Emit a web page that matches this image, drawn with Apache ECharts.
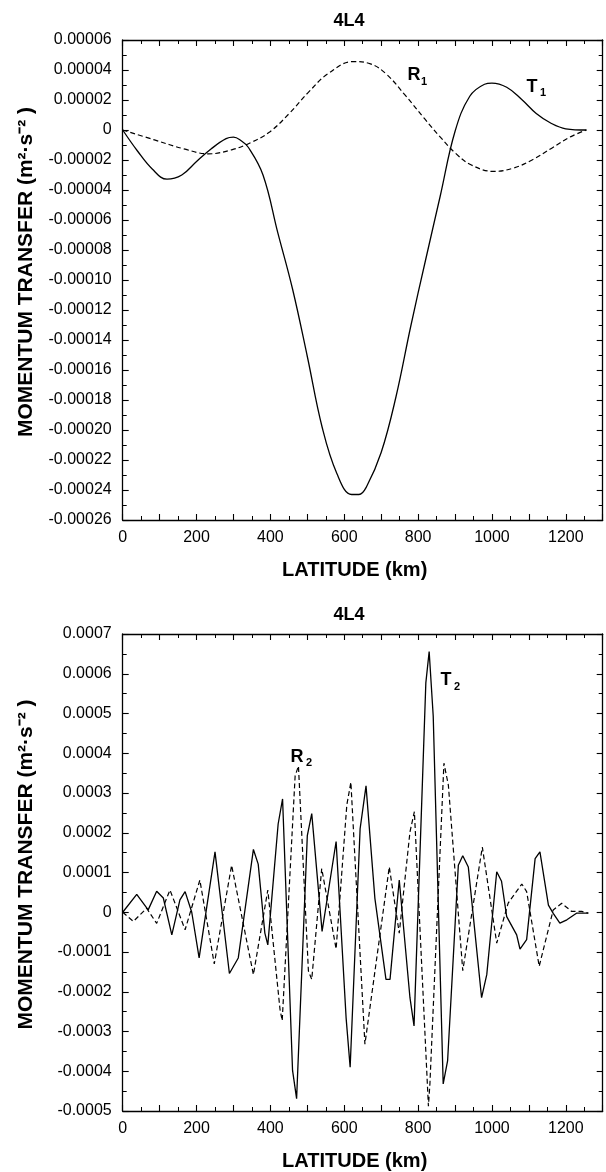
<!DOCTYPE html>
<html>
<head>
<meta charset="utf-8">
<script src="https://cdn.jsdelivr.net/npm/echarts@6/dist/echarts.min.js"></script>
<style>html,body{margin:0;padding:0;background:#fff}#c{width:606px;height:1172px}</style>
</head>
<body>
<div id="c"></div>
<script>
// ---- data (x = latitude km, y = momentum transfer) ----
const T1 = [[0,0],[40,-0.000014],[80,-0.000026],[120,-0.0000328],[160,-0.00003],[200,-0.000021],[240,-0.0000125],[280,-0.0000058],[300,-0.0000048],[320,-0.000007],[340,-0.0000115],[380,-0.00003],[420,-0.0000684],[460,-0.000106],[500,-0.000151],[540,-0.000198],[580,-0.000229],[620,-0.000243],[640,-0.000243],[660,-0.000238],[700,-0.000215],[740,-0.000178],[780,-0.000131],[820,-0.000087],[860,-0.000044],[900,-0.000001],[940,0.0000225],[980,0.0000305],[1000,0.0000313],[1040,0.0000285],[1080,0.0000205],[1120,0.000011],[1160,0.0000045],[1200,0.0000008],[1256,0]];
const R1 = [[0,0],[86,-0.0000066],[169,-0.0000128],[232,-0.0000159],[295,-0.0000132],[347,-0.0000084],[399,-0.0000011],[451,0.000011],[504,0.0000254],[556,0.0000375],[624,0.0000456],[671,0.0000441],[713,0.0000375],[765,0.0000232],[817,0.0000077],[859,-0.0000044],[901,-0.0000154],[943,-0.0000232],[1005,-0.0000276],[1058,-0.0000254],[1110,-0.0000198],[1162,-0.0000121],[1214,-0.0000044],[1256,0]];
const T2 = [[0,0],[38,0.000045],[69,0.000006],[92,0.000053],[110,0.0000358],[133,-0.000057],[155,0.000031],[169,0.000052],[187,0],[207,-0.000115],[250,0.000152],[289,-0.000154],[313,-0.000115],[354,0.000158],[367,0.000121],[385,-0.0000525],[393,-0.000082],[421,0.000222],[433,0.000285],[460,-0.000398],[471,-0.000469],[500,0.000193],[512,0.000248],[540,-0.000048],[578,0.000178],[605,-0.000265],[616,-0.00039],[643,0.00021],[659,0.000318],[683,0.000035],[713,-0.000169],[724,-0.000169],[749,0.000081],[778,-0.000215],[789,-0.000286],[821,0.000577],[830,0.000656],[841,0.000493],[868,-0.000432],[880,-0.000373],[909,0.000118],[921,0.000142],[936,0.000114],[972,-0.000215],[986,-0.000157],[1013,0.000102],[1026,0.000078],[1040,-0.000011],[1067,-0.000057],[1076,-0.0000925],[1094,-0.000069],[1117,0.000135],[1130,0.000152],[1153,0.000018],[1166,-0.000003],[1184,-0.0000275],[1203,-0.000019],[1230,-0.000002],[1261,-0.000002]];
const R2 = [[0,0],[29,-0.000023],[65,0.00001],[92,-0.000028],[128,0.000056],[169,-0.000044],[209,0.000081],[248,-0.00013],[295,0.000118],[354,-0.000157],[393,0.000056],[426,-0.000244],[432,-0.000273],[467,0.000343],[476,0.000368],[503,-0.000148],[512,-0.000169],[539,0.00011],[578,-0.0000925],[607,0.00027],[618,0.000327],[656,-0.000332],[722,0.000114],[749,-0.0000525],[778,0.000202],[790,0.000253],[828,-0.000488],[832,-0.000432],[870,0.000375],[882,0.00032],[921,-0.000147],[974,0.000164],[1013,-0.0000775],[1044,0.000023],[1081,0.000071],[1094,0.000052],[1128,-0.000136],[1166,0.0000058],[1189,0.0000225],[1216,0.000002],[1243,0.000002],[1261,-0.000002]];
const titles = ['4L4', '4L4'];
const xRange = [0, 1300];
const yTopRange = [-0.00026, 0.00006];
const yBotRange = [-0.0005, 0.0007];

const chart = echarts.init(document.getElementById('c'), null, {renderer: 'canvas'});
const FONT = "'Liberation Sans', Arial, Helvetica, sans-serif";
const axisLine = {show: true, onZero: false, lineStyle: {color: '#000', width: 1.3}};

function xAx(grid, main) {
  return {
    type: 'value', gridIndex: grid, position: main ? 'bottom' : 'top',
    min: xRange[0], max: xRange[1], interval: 100,
    axisLine: axisLine,
    axisTick: {show: true, inside: true, length: 6, lineStyle: {color: '#000', width: 1.1}},
    minorTick: {show: true, splitNumber: 2, length: 4, lineStyle: {color: '#000', width: 1}},
    splitLine: {show: false}, minorSplitLine: {show: false},
    axisLabel: {show: main, margin: 10, color: '#000', fontSize: 16, fontFamily: FONT,
      formatter: v => (Math.round(v) % 200 === 0 && v < 1300) ? String(Math.round(v)) : ''},
    name: main ? 'LATITUDE (km)' : '', nameLocation: 'middle', nameGap: 40,
    nameTextStyle: {color: '#000', fontSize: 20, fontWeight: 'bold', fontFamily: FONT, padding: [0, 16, 0, 0]}
  };
}
function yAx(grid, main, range, step, dec) {
  return {
    type: 'value', gridIndex: grid, position: main ? 'left' : 'right',
    min: range[0], max: range[1], interval: step,
    axisLine: axisLine,
    axisTick: {show: true, inside: true, length: 6, lineStyle: {color: '#000', width: 1.1}},
    minorTick: {show: true, splitNumber: 2, length: 4, lineStyle: {color: '#000', width: 1}},
    splitLine: {show: false}, minorSplitLine: {show: false},
    axisLabel: {show: main, margin: 11, color: '#000', fontSize: 16, fontFamily: FONT,
      formatter: v => Math.abs(v) < 1e-12 ? '0' : v.toFixed(dec)},
    name: main ? 'MOMENTUM TRANSFER (m²·s⁻² )' : '', nameLocation: 'middle', nameGap: 86,
    nameTextStyle: {color: '#000', fontSize: 21, fontWeight: 'bold', fontFamily: FONT, padding: [0, 0, 0, 16]}
  };
}
function line(data, xi, yi, dashed) {
  return {
    type: 'line', data: data, xAxisIndex: xi, yAxisIndex: yi, showSymbol: false,
    smooth: xi === 0 ? 0.4 : false,
    animation: false, silent: true,
    lineStyle: {color: '#000', width: dashed ? 1.2 : 1.3, type: dashed ? [5, 3] : 'solid'}
  };
}
function txt(x, y, s, size) {
  return {type: 'text', x: x, y: y, silent: true,
    style: {text: s, fill: '#000', font: 'bold ' + size + 'px ' + FONT, textAlign: 'center', textVerticalAlign: 'middle'}};
}

chart.setOption({
  backgroundColor: '#fff',
  animation: false,
  grid: [
    {left: 122.7, top: 40, width: 480, height: 480},
    {left: 122.7, top: 634, width: 480, height: 480}
  ],
  xAxis: [xAx(0, true), xAx(0, false), xAx(1, true), xAx(1, false)],
  yAxis: [yAx(0, true, yTopRange, 0.00002, 5), yAx(0, false, yTopRange, 0.00002, 5),
          yAx(1, true, yBotRange, 0.0001, 4), yAx(1, false, yBotRange, 0.0001, 4)],
  series: [line(T1, 0, 0, false), line(R1, 0, 0, true), line(T2, 2, 2, false), line(R2, 2, 2, true)],
  graphic: [
    txt(349, 21, titles[0], 18), txt(349, 615, titles[1], 18),
    txt(414, 75, 'R', 18), txt(424, 82, '1', 11),
    txt(532, 87, 'T', 18), txt(543, 93, '1', 11),
    txt(297, 757, 'R', 18), txt(309, 763, '2', 11),
    txt(446, 680, 'T', 18), txt(457, 687, '2', 11)
  ]
});
</script>
</body>
</html>
